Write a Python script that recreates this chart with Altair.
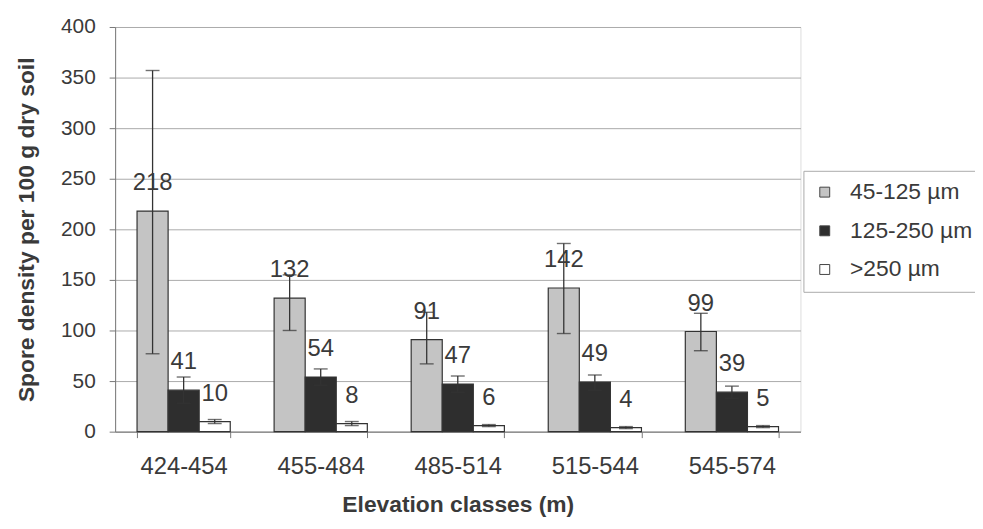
import altair as alt
import pandas as pd

classes = ["424-454", "455-484", "485-514", "515-544", "545-574"]
sizes = ["45-125 µm", "125-250 µm", ">250 µm"]

small_mean = [218, 132, 91, 142, 99]
small_low = [77, 100, 67, 97, 80]
small_high = [357, 155, 118, 186, 117]

mid_mean = [41, 54, 47, 49, 39]
mid_low = [28, 46, 39, 41, 33]
mid_high = [54, 62, 55, 56, 45]

large_mean = [10, 8, 6, 4, 5]
large_low = [8, 6, 5, 3, 4]
large_high = [12, 10, 7, 5, 6]

rows = []
for s, m, lo, hi in [
    (sizes[0], small_mean, small_low, small_high),
    (sizes[1], mid_mean, mid_low, mid_high),
    (sizes[2], large_mean, large_low, large_high),
]:
    for c, mv, lv, hv in zip(classes, m, lo, hi):
        rows.append({"cls": c, "size": s, "mean": mv, "low": lv, "high": hv})
df = pd.DataFrame(rows)

font = "Liberation Sans"
txt = "#3a3a3a"

x = alt.X("cls:N", sort=classes, title="Elevation classes (m)",
          scale=alt.Scale(paddingInner=0.32, paddingOuter=0.16),
          axis=alt.Axis(labelAngle=0, labelFontSize=24, labelColor=txt,
                        titleFontSize=23, titleColor=txt, titleFontWeight="bold",
                        labelPadding=17, titlePadding=16, tickColor="#777",
                        domainColor="#777", tickSize=6, tickBand="extent", grid=False))
xo = alt.XOffset("size:N", sort=sizes, scale=alt.Scale(paddingInner=0, paddingOuter=0))

bars = alt.Chart(df).mark_bar(stroke="#333", strokeWidth=1.2).encode(
    x=x,
    xOffset=xo,
    y=alt.Y("mean:Q", title="Spore density per 100 g dry soil",
            scale=alt.Scale(domain=[0, 400]),
            axis=alt.Axis(values=list(range(0, 401, 50)), labelFontSize=21,
                          labelColor=txt, titleFontSize=23, titleColor=txt,
                          titleFontWeight="bold", titlePadding=22, gridColor="#aaa",
                          gridWidth=1, tickColor="#777", domainColor="#777",
                          tickSize=6, labelPadding=14)),
    fill=alt.Fill("size:N", sort=sizes,
                  scale=alt.Scale(domain=sizes, range=["#c4c4c4", "#2e2e2e", "#ffffff"]),
                  legend=alt.Legend(title=None, orient="none", legendX=694, legendY=145,
                                    labelFontSize=23, labelColor=txt, symbolType="square",
                                    symbolSize=100, symbolStrokeColor="#444",
                                    symbolStrokeWidth=1, rowPadding=15, labelOffset=14,
                                    strokeColor="#aaa", padding=10, labelFont=font,
                                    fillColor="white", labelLimit=300)),
)

err = alt.Chart(df).mark_rule(color="#333", strokeWidth=1.3).encode(
    x=x, xOffset=xo, y="low:Q", y2="high:Q")
cap_hi = alt.Chart(df).mark_tick(color="#333", thickness=1.4, size=14).encode(
    x=x, xOffset=xo, y="high:Q")
cap_lo = alt.Chart(df).mark_tick(color="#333", thickness=1.4, size=14).encode(
    x=x, xOffset=xo, y="low:Q")

labels = alt.Chart(df).mark_text(fontSize=24, color=txt, dy=-28, font=font).encode(
    x=x, xOffset=xo, y="mean:Q", text="mean:Q")

chart = alt.layer(bars, err, cap_hi, cap_lo, labels).properties(
    width=691, height=408,
    autosize=alt.AutoSizeParams(type="none"),
    padding={"left": 108, "top": 17, "right": 176, "bottom": 96},
).configure_view(stroke="#999", strokeWidth=1).configure(font=font, background="white")

chart.save("out.html", embed_options={"renderer": "svg", "actions": False})
